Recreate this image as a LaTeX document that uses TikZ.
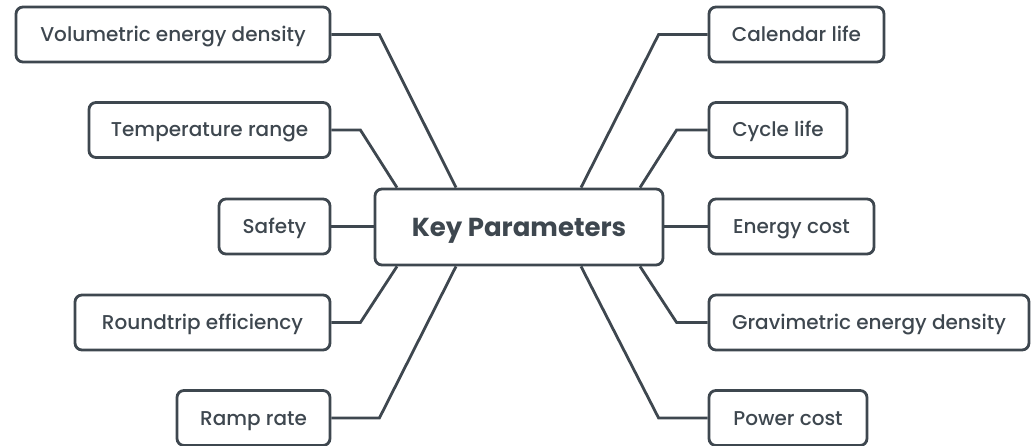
\documentclass[tikz,border=0pt]{standalone}
\usepackage{fontspec}
\setmainfont{Poppins}[UprightFont=* Medium, BoldFont=* Bold]
\definecolor{ink}{HTML}{3E474F}
\tikzset{
  box/.style={draw=ink, line width=2.8pt, rounded corners=7pt, text=ink,
    font=\fontsize{20}{22}\selectfont, minimum height=55pt, inner sep=0pt,
    text height=14pt, text depth=0pt},
  keybox/.style={box, font=\fontsize{26}{29}\selectfont\bfseries, minimum height=76pt,
    text height=18.5pt},
  link/.style={draw=ink, line width=2.8pt, line join=miter}
}
\begin{document}
\begin{tikzpicture}[x=1pt,y=-1pt]
\useasboundingbox (0,0) rectangle (1034,446);
% hub
\node[keybox, minimum width=288pt] (key) at (519,227) {Key Parameters};
% left branches
\node[box, minimum width=314pt] (vol)  at (173,34.5) {Volumetric energy density};
\node[box, minimum width=241pt] (temp) at (209.5,130) {Temperature range};
\node[box, minimum width=111pt] (saf)  at (274.5,226.5) {Safety};
\node[box, minimum width=255pt] (rt)   at (202.5,322.5) {Roundtrip efficiency};
\node[box, minimum width=153pt] (ramp) at (253.5,418) {Ramp rate};
% right branches
\node[box, minimum width=175pt] (cal)  at (796.5,34.5) {Calendar life};
\node[box, minimum width=138pt] (cyc)  at (778,130) {Cycle life};
\node[box, minimum width=165pt] (ecost) at (791.5,226.5) {Energy cost};
\node[box, minimum width=320pt] (grav) at (869,322.5) {Gravimetric energy density};
\node[box, minimum width=158pt] (pcost) at (788,418) {Power cost};
% connectors, left side
\draw[link] (vol.east)  -- ([xshift=48pt]vol.east)  -- ([xshift=-63pt]key.north);
\draw[link] (temp.east) -- ([xshift=29pt]temp.east) -- ([xshift=-122pt]key.north);
\draw[link] (saf.east)  -- (saf.east -| key.west);
\draw[link] (rt.east)   -- ([xshift=29pt]rt.east)   -- ([xshift=-122pt]key.south);
\draw[link] (ramp.east) -- ([xshift=48pt]ramp.east) -- ([xshift=-63pt]key.south);
% connectors, right side
\draw[link] (cal.west)  -- ([xshift=-49pt]cal.west)  -- ([xshift=62pt]key.north);
\draw[link] (cyc.west)  -- ([xshift=-31pt]cyc.west)  -- ([xshift=121pt]key.north);
\draw[link] (ecost.west) -- (ecost.west -| key.east);
\draw[link] (grav.west) -- ([xshift=-31pt]grav.west) -- ([xshift=121pt]key.south);
\draw[link] (pcost.west) -- ([xshift=-49pt]pcost.west) -- ([xshift=62pt]key.south);
\end{tikzpicture}
\end{document}
